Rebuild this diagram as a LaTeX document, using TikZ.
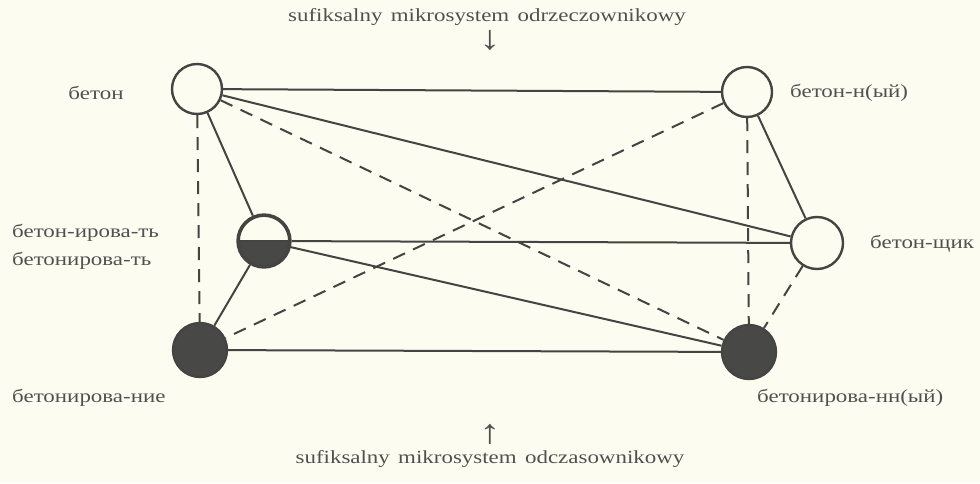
\documentclass[tikz,border=0pt]{standalone}
\usepackage{fontspec}
\setmainfont[FakeStretch=1.24]{Liberation Serif}
\usetikzlibrary{calc}
\definecolor{paper}{HTML}{FCFCF0}
\definecolor{ink}{HTML}{444442}
\definecolor{txt}{HTML}{505050}
\definecolor{darkfill}{HTML}{484846}
\begin{document}
\begin{tikzpicture}[x=1pt,y=-1pt,
  every node/.style={font=\fontsize{18.5}{21}\selectfont, text=txt},
  word/.style={circle, draw=ink, line width=2.4pt, minimum size=50pt, inner sep=0pt, fill=paper},
  full/.style={word, fill=darkfill},
  link/.style={draw=ink, line width=2pt},
  weak/.style={link, dash pattern=on 13pt off 9pt},
  lbl/.style={inner sep=0pt, anchor=west},
  pointer/.style={font=\fontsize{34}{36}\selectfont, inner sep=0pt}
]
\fill[paper] (0,0) rectangle (980,483);
\useasboundingbox (0,0) rectangle (980,483);

% centres of the word circles
\coordinate (pA) at (197,89);
\coordinate (pB) at (747,92);
\coordinate (pC) at (264,241);
\coordinate (pD) at (200,350);
\coordinate (pE) at (749,352);
\coordinate (pF) at (817,243);

% invisible outlines used as connector ends
\path (pA) node[word, draw=none, fill=none] (A) {}
      (pB) node[word, draw=none, fill=none] (B) {}
      (pC) node[word, draw=none, fill=none, minimum size=53pt] (C) {}
      (pD) node[word, draw=none, fill=none, minimum size=54pt] (D) {}
      (pE) node[word, draw=none, fill=none, minimum size=54pt] (E) {}
      (pF) node[word, draw=none, fill=none, minimum size=52pt] (F) {};

\draw[link] (A) -- (B);
\draw[link] (A) -- (F);
\draw[link] (A) -- (C);
\draw[link] (B) -- (F);
\draw[link] (C) -- (F);
\draw[link] (C) -- (E);
\draw[link] (C) -- (D);
\draw[link] (D) -- (E);
\draw[weak] (A) -- (D);
\draw[weak] (A) -- (E);
\draw[weak] (B) -- (D);
\draw[weak] (B) -- (E);
\draw[weak] (F) -- (E);

% the circles themselves
\node[word] at (pA) {};
\node[word] at (pB) {};
\node[word, minimum size=53pt] at (pC) {};
\fill[darkfill] ($(pC)+(-25.3,0)$) arc[start angle=180, end angle=0, radius=25.3] -- cycle;
\draw[ink, line width=2.4pt] ($(pC)+(-25.3,0)$) -- ($(pC)+(25.3,0)$);
\draw[ink, line width=2.4pt] (pC) circle[radius=25.3];
\node[full, minimum size=54pt] at (pD) {};
\node[full, minimum size=54pt] at (pE) {};
\node[word, minimum size=52pt] at (pF) {};

% labels
\node (tA) at (96,93) {бетон};
\node[lbl] (tC1) at (12,233) {бетон-ирова-ть};
\node[lbl] (tC2) at (12,261) {бетонирова-ть};
\node[lbl] (tD) at (12,398) {бетонирова-ние};
\node[lbl] (tB) at (790,93) {бетон-н(ый)};
\node[lbl] (tF) at (870,244) {бетон-щик};
\node[lbl] (tE) at (757,398) {бетонирова-нн(ый)};

% the two suffixal microsystems
\node (top) at (487,17) {sufiksalny\hspace{0.45em}mikrosystem\hspace{0.45em}odrzeczownikowy};
\node[pointer] (down) at (490,40) {↓};
\node[pointer] (up) at (490,434) {↑};
\node (bot) at (490,459) {sufiksalny\hspace{0.45em}mikrosystem\hspace{0.45em}odczasownikowy};
\end{tikzpicture}
\end{document}
